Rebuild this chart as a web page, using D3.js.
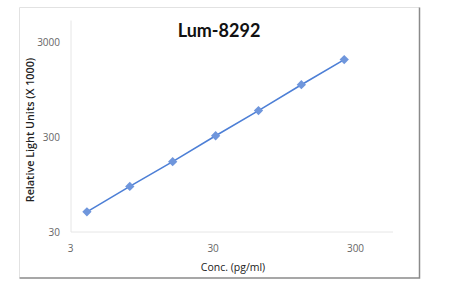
<!DOCTYPE html>
<html>
<head>
<meta charset="utf-8">
<script src="https://cdn.jsdelivr.net/npm/d3@7"></script>
<style>
  body { margin: 0; background: #fff; }
  svg { display: block; }
</style>
</head>
<body>
<div id="chart"></div>
<script>
// data (log-log standard curve)
var conc = [3.9, 7.8, 15.6, 31.25, 62.5, 125, 250]
var rlu = [49, 91, 166, 312, 575, 1080, 1990]
var xTicks = [3, 30, 300]
var yTicks = [30, 300, 3000]

var width = 449
var height = 288

var lineColor = "#4d7fd6"
var markerColor = "#6f96dc"

var svg = d3.select("#chart").append("svg")
    .attr("width", width)
    .attr("height", height)

// frame round the chart, light on top/left and darker on right/bottom
svg.append("path").attr("d", "M19.5,277.5 L19.5,7.5 L419.5,7.5")
    .attr("fill", "none").attr("stroke", "#e2e2e2")
svg.append("path").attr("d", "M19.5,278 L419.5,278 L419.5,7.5")
    .attr("fill", "none").attr("stroke", "#8a8a8a").attr("stroke-width", 1.5)

var x = d3.scaleLog().domain([3, 300]).range([70.7, 355.5])
var y = d3.scaleLog().domain([30, 3000]).range([232, 42.7])

// axis lines
svg.append("line")
    .attr("x1", 71).attr("x2", 71)
    .attr("y1", 20.5).attr("y2", 232)
    .attr("stroke", "#e6e6e6")
svg.append("line")
    .attr("x1", 71).attr("x2", 393)
    .attr("y1", 232).attr("y2", 232)
    .attr("stroke", "#e6e6e6")

// tick labels
svg.selectAll(".ytick").data(yTicks).enter().append("text")
    .attr("class", "ytick")
    .attr("x", 60)
    .attr("y", function(d){ return y(d) })
    .attr("dy", "0.35em")
    .attr("text-anchor", "end")
    .attr("font-family", "Open Sans, sans-serif")
    .attr("font-size", 10)
    .attr("fill", "#666")
    .text(function(d){ return d })

svg.selectAll(".xtick").data(xTicks).enter().append("text")
    .attr("class", "xtick")
    .attr("x", function(d){ return x(d) })
    .attr("y", 248)
    .attr("dy", "0.35em")
    .attr("text-anchor", "middle")
    .attr("font-family", "Open Sans, sans-serif")
    .attr("font-size", 10)
    .attr("fill", "#666")
    .text(function(d){ return d })

// series line + diamond markers
var pts = conc.map(function(c, i){ return [c, rlu[i]] })

svg.append("path")
    .datum(pts)
    .attr("fill", "none")
    .attr("stroke", lineColor)
    .attr("stroke-width", 1.6)
    .attr("d", d3.line()
        .x(function(d){ return x(d[0]) })
        .y(function(d){ return y(d[1]) }))

svg.selectAll(".pt").data(pts).enter().append("path")
    .attr("class", "pt")
    .attr("transform", function(d){ return "translate(" + x(d[0]) + "," + y(d[1]) + ")" })
    .attr("d", d3.symbol().type(d3.symbolDiamond2).size(55))
    .attr("fill", markerColor)

// titles
svg.append("text")
    .attr("x", 219).attr("y", 37)
    .attr("text-anchor", "middle")
    .attr("font-family", "Lato, sans-serif")
    .attr("font-weight", 700)
    .attr("font-size", 18)
    .attr("fill", "#111")
    .text("Lum-8292")

svg.append("text")
    .attr("transform", "translate(34,130) rotate(-90)")
    .attr("text-anchor", "middle")
    .attr("font-family", "Open Sans, sans-serif")
    .attr("font-weight", 600)
    .attr("font-size", 10.8)
    .attr("fill", "#222")
    .text("Relative Light Units (X 1000)")

svg.append("text")
    .attr("x", 233).attr("y", 271)
    .attr("text-anchor", "middle")
    .attr("font-family", "Open Sans, sans-serif")
    .attr("font-size", 10.5)
    .attr("fill", "#222")
    .text("Conc. (pg/ml)")
</script>
</body>
</html>
